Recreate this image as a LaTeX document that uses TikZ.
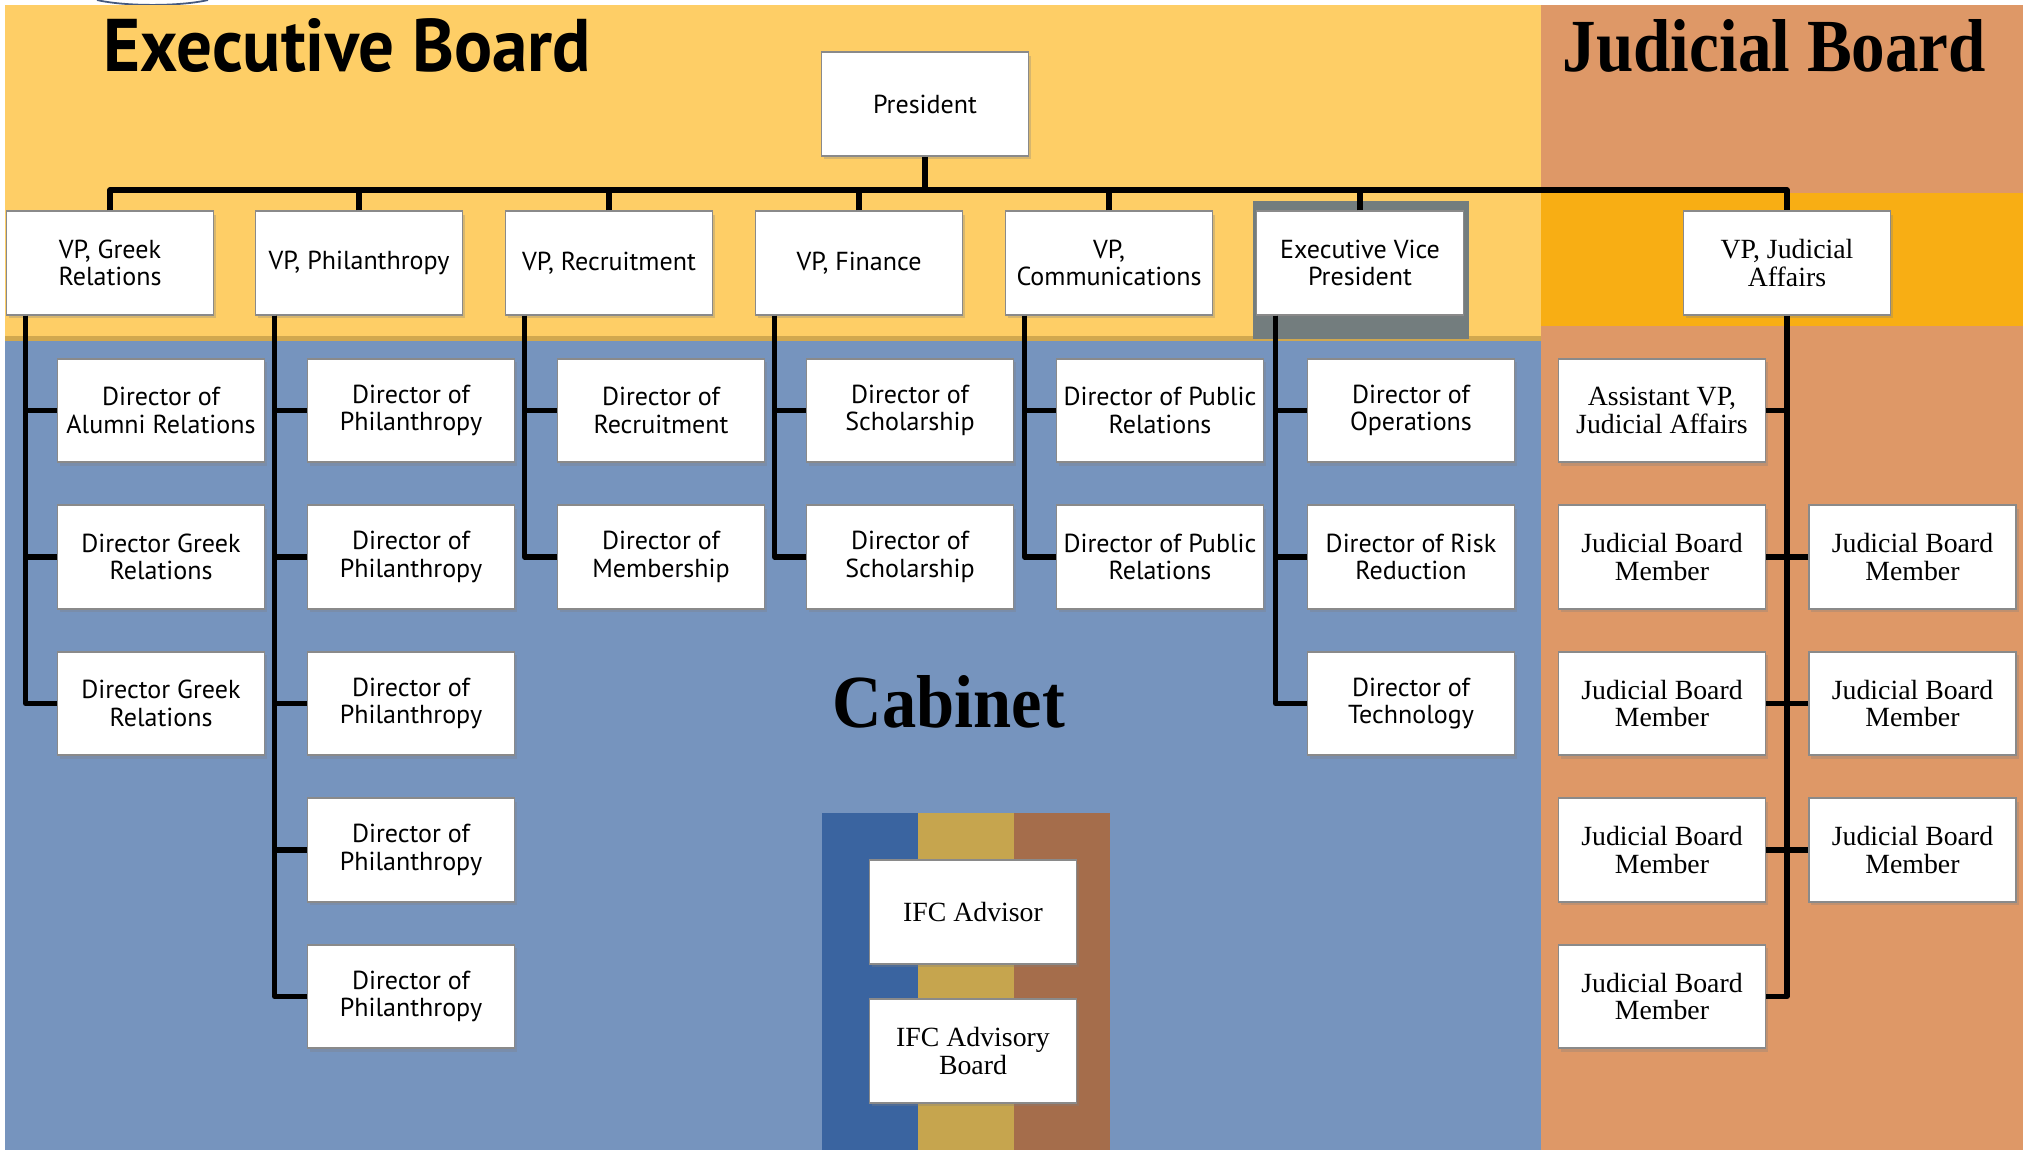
\documentclass[tikz,border=0pt]{standalone}
\usepackage{fontspec}
\usepackage{graphicx}
\usetikzlibrary{shadows}
\newfontfamily\boxsans{PT Sans}
\newfontfamily\boxserif{Liberation Serif}
\definecolor{execY}{HTML}{FECE66}
\definecolor{judT}{HTML}{DE9867}
\definecolor{judBand}{HTML}{F8AE14}
\definecolor{cabB}{HTML}{7694BE}
\definecolor{evpG}{HTML}{737D7E}
\definecolor{goldLine}{HTML}{D1A84F}
\definecolor{ifcBlue}{HTML}{3A64A0}
\definecolor{ifcGold}{HTML}{C6A54E}
\definecolor{ifcBrown}{HTML}{A56D4B}
\definecolor{boxline}{HTML}{8A8A8A}
\definecolor{logoArc}{HTML}{45597E}
\begin{document}
\begin{tikzpicture}[x=0.01cm,y=-0.01cm,
  box/.style={draw=boxline, line width=0.5pt, fill=white, minimum width=2.07cm,
    minimum height=1.035cm, inner sep=1pt, align=center,
    drop shadow={shadow xshift=0.7pt, shadow yshift=-1pt, opacity=0.3}},
  sbox/.style={box, font=\boxsans\fontsize{7.4}{7.8}\selectfont},
  rbox/.style={box, font=\boxserif\fontsize{7.9}{7.8}\selectfont},
  conn/.style={line width=1.45pt, line join=round},
  title/.style={inner sep=0pt, font=\bfseries}]
\useasboundingbox (0,0) rectangle (2023,1150);
% backgrounds
\fill[white] (0,0) rectangle (2023,1150);
\draw[logoArc, line width=0.5pt] (97,0) .. controls (125,6.5) and (180,6.5) .. (208,0);
\fill[execY] (5,5) rectangle (1541,340);
\fill[judT] (1541,5) rectangle (2023,1150);
\fill[judBand] (1541,193) rectangle (2023,326);
\fill[cabB] (5,340) rectangle (1541,1150);
\fill[goldLine] (5,336) rectangle (1541,341);
\fill[evpG] (1253,201) rectangle (1469,339);
% IFC stripes
\fill[ifcBlue] (822,813) rectangle (918,1150);
\fill[ifcGold] (918,813) rectangle (1014,1150);
\fill[ifcBrown] (1014,813) rectangle (1110,1150);
% titles
\node[title, anchor=base west] (texec) at (103,71)
  {\resizebox{4.87cm}{0.53cm}{\boxsans\bfseries Executive Board}};
\node[title, anchor=base west] (tjud) at (1562,71)
  {\resizebox{4.23cm}{0.52cm}{\boxserif\bfseries Judicial Board}};
\node[title, anchor=base] (tcab) at (949,727)
  {\resizebox{2.32cm}{0.52cm}{\boxserif\bfseries Cabinet}};
% president and VPs
\node[sbox] (pres) at (925,104) {President};
\node[sbox] (vpg) at (110,263) {VP, Greek\\Relations};
\node[sbox] (vpp) at (359,263) {VP, Philanthropy};
\node[sbox] (vpr) at (609,263) {VP, Recruitment};
\node[sbox] (vpf) at (859,263) {VP, Finance};
\node[sbox] (vpc) at (1109,263) {VP,\\Communications};
\node[sbox] (vpe) at (1360,263) {Executive Vice\\President};
\node[rbox] (vpj) at (1787,263) {VP, Judicial\\Affairs};
% directors
\node[sbox] (g1) at (161,410.5) {Director of\\Alumni Relations};
\node[sbox] (g2) at (161,557) {Director Greek\\Relations};
\node[sbox] (g3) at (161,703.5) {Director Greek\\Relations};
\node[sbox] (p1) at (411,410.5) {Director of\\Philanthropy};
\node[sbox] (p2) at (411,557) {Director of\\Philanthropy};
\node[sbox] (p3) at (411,703.5) {Director of\\Philanthropy};
\node[sbox] (p4) at (411,850) {Director of\\Philanthropy};
\node[sbox] (p5) at (411,996.5) {Director of\\Philanthropy};
\node[sbox] (r1) at (661,410.5) {Director of\\Recruitment};
\node[sbox] (r2) at (661,557) {Director of\\Membership};
\node[sbox] (f1) at (910,410.5) {Director of\\Scholarship};
\node[sbox] (f2) at (910,557) {Director of\\Scholarship};
\node[sbox] (c1) at (1160,410.5) {Director of Public\\Relations};
\node[sbox] (c2) at (1160,557) {Director of Public\\Relations};
\node[sbox] (e1) at (1411,410.5) {Director of\\Operations};
\node[sbox] (e2) at (1411,557) {Director of Risk\\Reduction};
\node[sbox] (e3) at (1411,703.5) {Director of\\Technology};
% judicial
\node[rbox] (ja) at (1662,410.5) {Assistant VP,\\Judicial Affairs};
\node[rbox] (jl1) at (1662,557) {Judicial Board\\Member};
\node[rbox] (jl2) at (1662,703.5) {Judicial Board\\Member};
\node[rbox] (jl3) at (1662,850) {Judicial Board\\Member};
\node[rbox] (jl4) at (1662,996.5) {Judicial Board\\Member};
\node[rbox] (jr1) at (1912.5,557) {Judicial Board\\Member};
\node[rbox] (jr2) at (1912.5,703.5) {Judicial Board\\Member};
\node[rbox] (jr3) at (1912.5,850) {Judicial Board\\Member};
% IFC
\node[rbox] (ifa) at (973,912) {IFC Advisor};
\node[rbox] (ifb) at (973,1051) {IFC Advisory\\Board};
% connectors: bus
\coordinate (bus) at (0,190);
\draw[conn] (pres.south) -- (pres.south |- bus);
\draw[conn] (vpg.north) -- (vpg.north |- bus) -- (vpj.north |- bus) -- (vpj.north);
\foreach \v in {vpp,vpr,vpf,vpc,vpe}
  \draw[conn] (\v.north) -- (\v.north |- bus);
% spines
\foreach \v/\d in {vpg/g1,vpg/g2,vpg/g3,vpp/p1,vpp/p2,vpp/p3,vpp/p4,vpp/p5,
                   vpr/r1,vpr/r2,vpf/f1,vpf/f2,vpc/c1,vpc/c2,vpe/e1,vpe/e2,vpe/e3}
  \draw[conn] ([xshift=0.2cm]\v.south west) |- (\d.west);
% judicial spine
\draw[conn] (vpj.south) |- (jl4.east);
\foreach \d in {ja,jl1,jl2,jl3}
  \draw[conn] (\d.east) -- (\d.east -| vpj.south);
\foreach \d in {jr1,jr2,jr3}
  \draw[conn] (\d.west) -- (\d.west -| vpj.south);
\end{tikzpicture}
\end{document}
